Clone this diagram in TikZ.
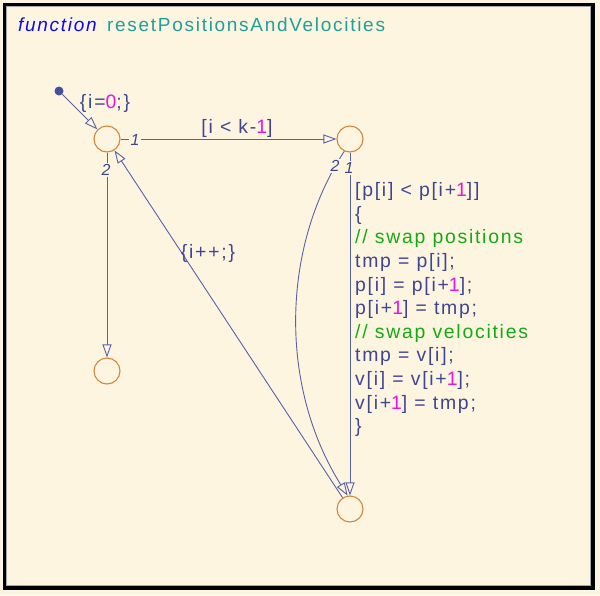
\documentclass[tikz,border=0pt]{standalone}
\usepackage{fontspec}
\setmainfont{Liberation Sans}[LetterSpace=9]
\usetikzlibrary{arrows.meta}
\definecolor{bg}{RGB}{254,245,225}
\definecolor{ln}{RGB}{88,98,168}
\definecolor{tx}{RGB}{62,70,145}
\definecolor{jn}{RGB}{208,136,60}
\definecolor{mg}{RGB}{230,20,230}
\definecolor{gr}{RGB}{20,170,20}
\definecolor{tl}{RGB}{30,160,152}
\definecolor{fb}{RGB}{10,10,250}
\definecolor{dotc}{RGB}{72,78,158}
\begin{document}
\begin{tikzpicture}[x=1pt,y=-1pt,
 junction/.style={circle,draw=jn,line width=1.1pt,minimum size=26pt,inner sep=0pt},
 trans/.style={draw=ln,line width=0.9pt,-{Triangle[open,length=13pt,width=9pt]}},
 lbl/.style={text=tx,font=\fontsize{19.4}{23.6}\selectfont,inner sep=0pt},
 num/.style={text=tx,font=\fontsize{16}{16}\selectfont\itshape,fill=bg,inner sep=1.5pt},
 title/.style={anchor=base west,inner sep=0pt},
]
\useasboundingbox (0,0) rectangle (600,595);
\fill[bg] (0,0) rectangle (600,595);
\fill[black] (2.7,2.7) rectangle (595,590);
\fill[bg] (6,6) rectangle (590.5,585.5);
\draw[black!35,line width=0.6pt] (6.3,6.3) rectangle (590.2,585.2);

\node[title,font=\fontsize{19}{19}\selectfont\itshape,text=fb] (fn) at (18,31) {function};
\node[title,font=\fontsize{19}{19}\selectfont,text=tl] (nm) at (107,31) {resetPositionsAndVelocities};

\node[junction] (j1) at (107,139) {};
\node[junction] (j2) at (350,139) {};
\node[junction] (j3) at (107,371) {};
\node[junction] (j4) at (350,509) {};
\node[circle,fill=dotc,inner sep=0pt,minimum size=9pt] (d) at (59,91) {};

\draw[trans] (d) -- (j1);
\draw[trans] (j1) -- (j2);
\draw[trans] (j1) -- (j3);
\draw[trans] (j4) -- (j1);
\draw[trans] (j2.-115) .. controls (280,250) and (280,388) .. (j4.100);
\draw[trans] (j2) -- (j4);

\node[num] (n1) at (135,140) {1};
\node[num] (n2) at (106,170) {2};
\node[num] (n3) at (335,166) {2};
\node[num] (n4) at (349,168) {1};

\node[lbl] (l0) at (105,103) {\{i=\textcolor{mg}{0};\}};
\node[lbl] (l1) at (237,128) {[i < k-\textcolor{mg}{1}]};
\node[lbl] (l2) at (208,253) {\{i++;\}};
\node[lbl,anchor=north west,align=left] (l3) at (355,182.5) {[p[i] < p[i+\textcolor{mg}{1}]]\\
\{\\
\textcolor{gr}{// swap positions}\\
tmp = p[i];\\
p[i] = p[i+\textcolor{mg}{1}];\\
p[i+\textcolor{mg}{1}] = tmp;\\
\textcolor{gr}{// swap velocities}\\
tmp = v[i];\\
v[i] = v[i+\textcolor{mg}{1}];\\
v[i+\textcolor{mg}{1}] = tmp;\\
\}};
\end{tikzpicture}
\end{document}
